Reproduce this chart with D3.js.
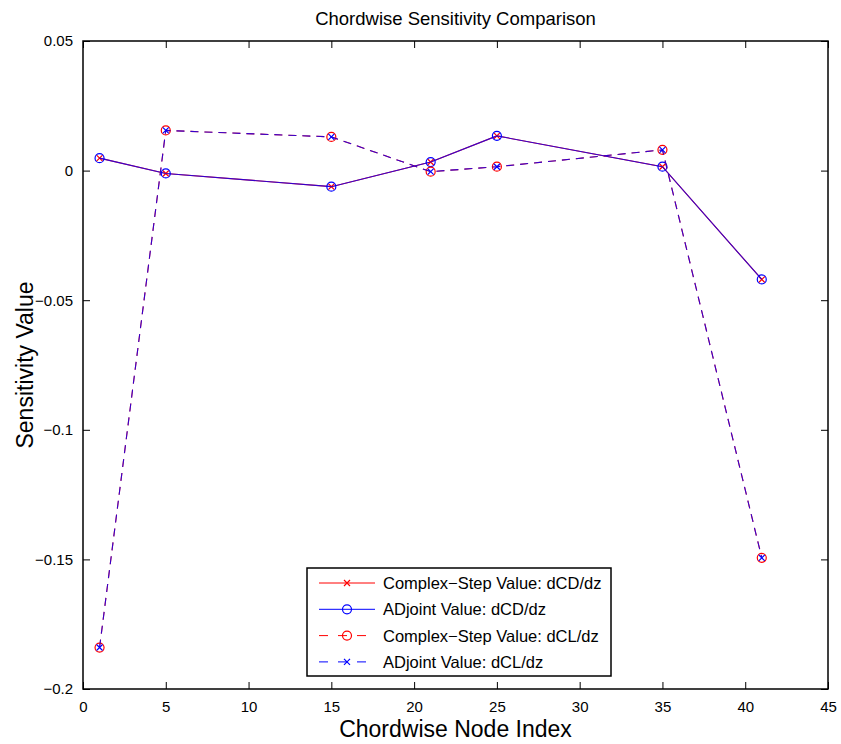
<!DOCTYPE html>
<html lang="en">
<head>
    <meta charset="UTF-8">
    <title>Chordwise Sensitivity Comparison</title>
    <script src="https://cdn.jsdelivr.net/npm/d3@7"></script>
    <style>
        body {
            margin: 0;
            background-color: #fff;
            font-family: 'Liberation Sans', Arial, sans-serif;
        }
        svg text {
            fill: #000;
        }
    </style>
</head>
<body>
    <svg id="chart"></svg>

    <script>
        // chordwise node index and the sensitivities
        const nodes = [1, 5, 15, 21, 25, 35, 41];
        const csDCD = [0.0048, -0.0011, -0.0062, 0.0033, 0.0134, 0.0015, -0.042];
        const adjDCD = [0.0048, -0.0011, -0.0062, 0.0033, 0.0134, 0.0015, -0.042];
        const csDCL = [-0.184, 0.0155, 0.013, -0.0004, 0.0015, 0.008, -0.1494];
        const adjDCL = [-0.184, 0.0155, 0.013, -0.0004, 0.0015, 0.008, -0.1494];

        const xTicks = [0, 5, 10, 15, 20, 25, 30, 35, 40, 45];
        const yTicks = [-0.2, -0.15, -0.1, -0.05, 0, 0.05];
        const yTickLabels = ["\u22120.2", "\u22120.15", "\u22120.1", "\u22120.05", "0", "0.05"];

        const series = [
            { name: "Complex\u2212Step Value: dCD/dz", values: csDCD, color: "#ff0000", dash: null, marker: "x" },
            { name: "ADjoint Value: dCD/dz", values: adjDCD, color: "#0000ff", dash: null, marker: "o" },
            { name: "Complex\u2212Step Value: dCL/dz", values: csDCL, color: "#ff0000", dash: "8,6", marker: "o" },
            { name: "ADjoint Value: dCL/dz", values: adjDCL, color: "#0000ff", dash: "8,6", marker: "x" }
        ];

        const width = 841, height = 744;
        const margin = { top: 41, right: 13, bottom: 55, left: 83 };
        const innerW = width - margin.left - margin.right;
        const innerH = height - margin.top - margin.bottom;

        const svg = d3.select("#chart")
            .attr("width", width)
            .attr("height", height);

        const g = svg.append("g")
            .attr("transform", `translate(${margin.left},${margin.top})`);

        const x = d3.scaleLinear().domain([0, 45]).range([0, innerW]);
        const y = d3.scaleLinear().domain([-0.2, 0.05]).range([innerH, 0]);

        // ticks inside the box, on all four sides (matlab style)
        const tickLen = 7;

        g.append("g")
            .attr("transform", `translate(0,${innerH})`)
            .call(d3.axisBottom(x).tickValues(xTicks).tickSizeInner(-tickLen).tickSizeOuter(0).tickPadding(tickLen + 5))
            .call(a => a.select(".domain").remove())
            .call(a => a.selectAll("text").attr("font-size", 15).attr("font-family", "Liberation Sans, Arial, sans-serif"));

        g.append("g")
            .call(d3.axisTop(x).tickValues(xTicks).tickSizeInner(-tickLen).tickSizeOuter(0).tickFormat(""))
            .call(a => a.select(".domain").remove());

        g.append("g")
            .call(d3.axisLeft(y).tickValues(yTicks).tickSizeInner(-tickLen).tickSizeOuter(0).tickPadding(tickLen + 3)
                .tickFormat((d, i) => yTickLabels[i]))
            .call(a => a.select(".domain").remove())
            .call(a => a.selectAll("text").attr("font-size", 15).attr("font-family", "Liberation Sans, Arial, sans-serif"));

        g.append("g")
            .attr("transform", `translate(${innerW},0)`)
            .call(d3.axisRight(y).tickValues(yTicks).tickSizeInner(-tickLen).tickSizeOuter(0).tickFormat(""))
            .call(a => a.select(".domain").remove());

        g.selectAll(".tick line").attr("stroke", "#000").attr("stroke-width", 1);

        g.append("rect")
            .attr("width", innerW)
            .attr("height", innerH)
            .attr("fill", "none")
            .attr("stroke", "#000")
            .attr("stroke-width", 1.5);

        const line = d3.line()
            .x((d, i) => x(nodes[i]))
            .y(d => y(d));

        function drawMarker(sel, type, color, cx, cy) {
            if (type === "o") {
                sel.append("circle")
                    .attr("cx", cx).attr("cy", cy).attr("r", 4.5)
                    .attr("fill", "none").attr("stroke", color).attr("stroke-width", 1.2);
            } else {
                const s = 3;
                sel.append("path")
                    .attr("d", `M${cx - s},${cy - s}L${cx + s},${cy + s}M${cx - s},${cy + s}L${cx + s},${cy - s}`)
                    .attr("stroke", color).attr("stroke-width", 1.2).attr("fill", "none");
            }
        }

        series.forEach(s => {
            const sg = g.append("g");
            // blue sits on the red line, let a bit of it show through
            sg.append("path")
                .datum(s.values)
                .attr("d", line)
                .attr("fill", "none")
                .attr("stroke", s.color)
                .attr("stroke-width", 1.1)
                .attr("stroke-opacity", s.color === "#0000ff" ? 0.8 : 1)
                .attr("stroke-dasharray", s.dash);
            s.values.forEach((v, i) => drawMarker(sg, s.marker, s.color, x(nodes[i]), y(v)));
        });

        // legend
        const legend = svg.append("g").attr("transform", "translate(307,568)");
        legend.append("rect")
            .attr("width", 304).attr("height", 108)
            .attr("fill", "#fff").attr("stroke", "#000").attr("stroke-width", 1.5);

        series.forEach((s, i) => {
            const ly = 15 + i * 26.3;
            const row = legend.append("g");
            row.append("line")
                .attr("x1", 12).attr("x2", 68).attr("y1", ly).attr("y2", ly)
                .attr("stroke", s.color).attr("stroke-width", 1)
                .attr("stroke-dasharray", s.dash ? "9,10" : null);
            drawMarker(row, s.marker, s.color, 40, ly);
            row.append("text")
                .attr("x", 76).attr("y", ly)
                .attr("dy", "0.36em")
                .attr("font-size", 16.5)
                .text(s.name);
        });

        // titles
        svg.append("text")
            .attr("x", margin.left + innerW / 2)
            .attr("y", 25)
            .attr("text-anchor", "middle")
            .attr("font-size", 18.5)
            .text("Chordwise Sensitivity Comparison");

        svg.append("text")
            .attr("x", margin.left + innerW / 2)
            .attr("y", 737)
            .attr("text-anchor", "middle")
            .attr("font-size", 23)
            .text("Chordwise Node Index");

        svg.append("text")
            .attr("transform", `translate(33,${margin.top + innerH / 2}) rotate(-90)`)
            .attr("text-anchor", "middle")
            .attr("font-size", 23)
            .text("Sensitivity Value");
    </script>
</body>
</html>
